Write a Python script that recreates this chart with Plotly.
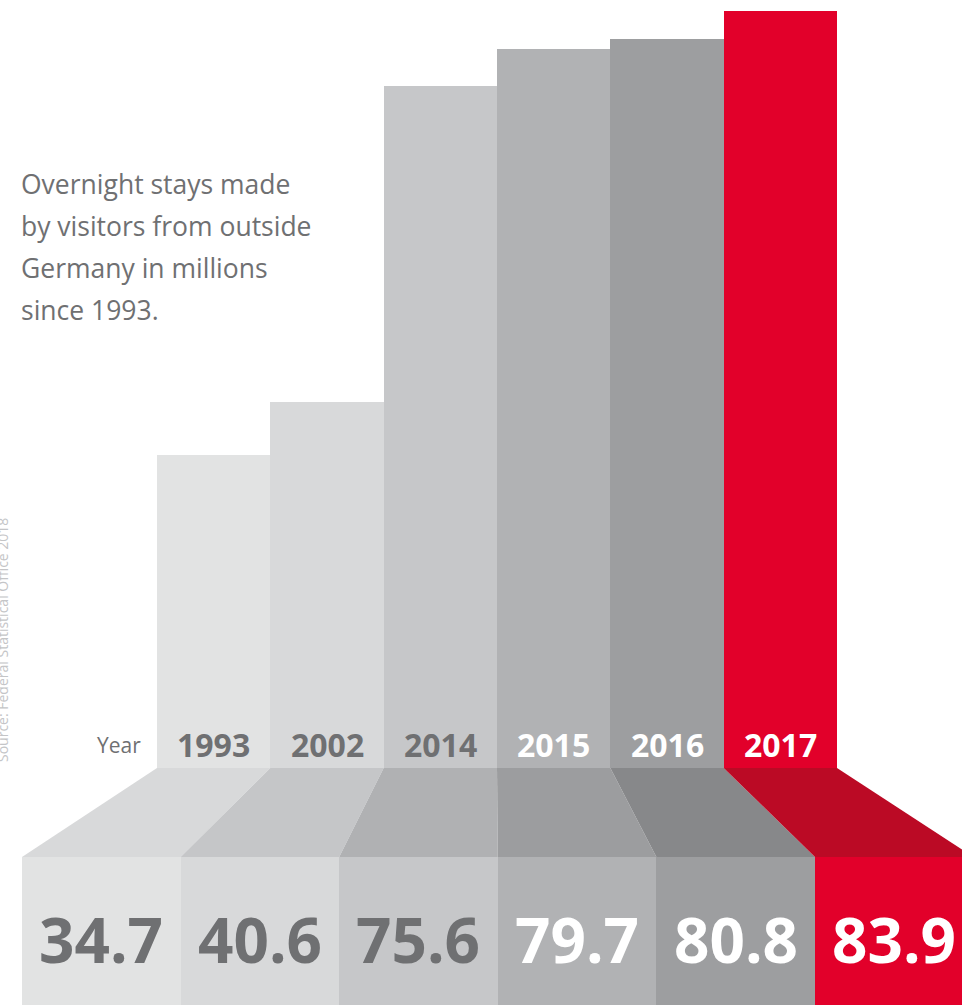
import plotly.graph_objects as go

# ---- data ----
years = ["1993", "2002", "2014", "2015", "2016", "2017"]
values = [34.7, 40.6, 75.6, 79.7, 80.8, 83.9]
value_labels = ["34.7", "40.6", "75.6", "79.7", "80.8", "83.9"]
title_lines = ["Overnight stays made", "by visitors from outside",
               "Germany in millions", "since 1993."]
source_text = "Source: Federal Statistical Office 2018"

# ---- styles ----
bar_colors = ["#e2e3e3", "#d8d9da", "#c6c7c9", "#b1b2b4", "#9d9ea0", "#e2002a"]
slope_colors = ["#d8d9da", "#c5c6c8", "#b0b1b3", "#9c9d9f", "#87888a", "#bb0a25"]
text_colors = ["#6f7072", "#6f7072", "#6f7072", "#ffffff", "#ffffff", "#ffffff"]
GRAY = "#6f7072"

W, H = 962, 1005
n = len(years)
# axis domains (paper fractions)
x1_dom = [157 / W, 837 / W]
y1_dom = [(H - 768) / H, (H - 11) / H]
x2_dom = [22 / W, 1.0]
y2_dom = [0.0, (H - 857) / H]
# the last value box runs off the right edge of the page
x2_cut = 0.073
x2_range = [-0.5, n - 0.5 - x2_cut]

fig = go.Figure()

fig.add_trace(go.Bar(
    x=years, y=values, marker=dict(color=bar_colors, line=dict(width=0)),
    xaxis="x", yaxis="y", hoverinfo="skip", showlegend=False))

fig.add_trace(go.Bar(
    x=years, y=[1] * n, marker=dict(color=bar_colors, line=dict(width=0)),
    xaxis="x2", yaxis="y2", hoverinfo="skip", showlegend=False))

# perspective connectors between the bars and the value boxes
tw = (x1_dom[1] - x1_dom[0]) / n
bw = (x2_dom[1] - x2_dom[0]) / (x2_range[1] - x2_range[0])
shapes = []
for i in range(n):
    tl, tr = x1_dom[0] + i * tw, x1_dom[0] + (i + 1) * tw
    bl, br = x2_dom[0] + i * bw, x2_dom[0] + (i + 1) * bw
    yt, yb = y1_dom[0], y2_dom[1]
    shapes.append(dict(
        type="path", xref="paper", yref="paper",
        path=f"M {tl},{yt} L {tr},{yt} L {br},{yb} L {bl},{yb} Z",
        fillcolor=slope_colors[i], line=dict(width=0), layer="above"))

annotations = []
# year labels on the bars
for i, yr in enumerate(years):
    annotations.append(dict(
        x=i, y=0, xref="x", yref="y", yanchor="middle", yshift=24,
        text=f"<b>{yr}</b>", showarrow=False,
        font=dict(family="Open Sans", size=32, color=text_colors[i])))
# value labels in the boxes
for i, yr in enumerate(years):
    annotations.append(dict(
        x=i, y=0.5, xref="x2", yref="y2", yanchor="middle", yshift=-8,
        text=f"<b>{value_labels[i]}</b>", showarrow=False,
        font=dict(family="Open Sans", size=62, color=text_colors[i])))
# "Year"
annotations.append(dict(
    x=143 / W, y=(H - 745) / H, xref="paper", yref="paper",
    xanchor="right", yanchor="middle", text="Year", showarrow=False,
    font=dict(family="Open Sans", size=21, color=GRAY)))
# title block
line_y = [184, 226, 268, 310]
for t, ly in zip(title_lines, line_y):
    annotations.append(dict(
        x=19 / W, y=(H - ly) / H, xref="paper", yref="paper",
        xanchor="left", yanchor="middle", text=t, showarrow=False,
        font=dict(family="Open Sans", size=26.5, color=GRAY)))
# source, rotated along left edge (partly cut off by the page edge)
annotations.append(dict(
    x=2 / W, y=(H - 640) / H, xref="paper", yref="paper",
    xanchor="center", yanchor="middle", text=source_text, textangle=-90,
    showarrow=False, font=dict(family="Open Sans", size=14, color="#c4c5c7")))

axis_off = dict(showgrid=False, zeroline=False, showticklabels=False,
                showline=False, ticks="", fixedrange=True)

fig.update_layout(
    width=W, height=H, margin=dict(l=0, r=0, t=0, b=0, pad=0),
    paper_bgcolor="white", plot_bgcolor="white",
    bargap=0, barmode="overlay", showlegend=False,
    xaxis=dict(domain=x1_dom, type="category", categoryarray=years,
               range=[-0.5, n - 0.5], **axis_off),
    yaxis=dict(domain=y1_dom, range=[0, max(values)], **axis_off),
    xaxis2=dict(domain=x2_dom, type="category", categoryarray=years,
                range=x2_range, anchor="y2", **axis_off),
    yaxis2=dict(domain=y2_dom, range=[0, 1], anchor="x2", **axis_off),
    shapes=shapes, annotations=annotations,
)

fig.write_html("out.html", config={"displayModeBar": False, "staticPlot": True},
               post_script="document.body.style.margin='0';")
